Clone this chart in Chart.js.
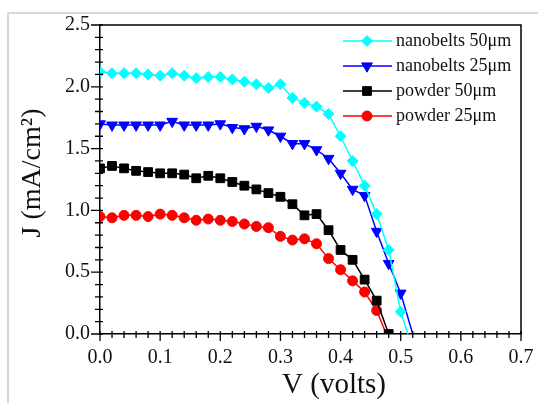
<!DOCTYPE html>
<html>
<head>
<meta charset="utf-8">
<script src="https://cdn.jsdelivr.net/npm/chart.js@4/dist/chart.umd.min.js"></script>
<style>
  html, body { margin: 0; padding: 0; background: #fff; }
  #wrap { position: relative; width: 538px; height: 403px; }
</style>
</head>
<body>
<div id="wrap"><canvas id="jvChart"></canvas></div>
<script>
// --- Data ---
const seriesNames = ['nanobelts 50μm', 'nanobelts 25μm', 'powder 50μm', 'powder 25μm'];

const voltsNb50 = [0, 0.02, 0.04, 0.06, 0.08, 0.10, 0.12, 0.14, 0.16, 0.18, 0.20, 0.22, 0.24, 0.26, 0.28, 0.30, 0.32, 0.34, 0.36, 0.38, 0.40, 0.42, 0.44, 0.46, 0.48, 0.50, 0.512];
const currentNb50 = [2.12, 2.11, 2.11, 2.11, 2.10, 2.09, 2.11, 2.09, 2.07, 2.08, 2.08, 2.06, 2.04, 2.02, 1.99, 2.02, 1.91, 1.87, 1.84, 1.78, 1.60, 1.40, 1.20, 0.97, 0.68, 0.18, 0];

const voltsNb25 = [0, 0.02, 0.04, 0.06, 0.08, 0.10, 0.12, 0.14, 0.16, 0.18, 0.20, 0.22, 0.24, 0.26, 0.28, 0.30, 0.32, 0.34, 0.36, 0.38, 0.40, 0.42, 0.44, 0.46, 0.48, 0.50, 0.52];
const currentNb25 = [1.70, 1.69, 1.69, 1.69, 1.69, 1.69, 1.72, 1.69, 1.69, 1.69, 1.70, 1.67, 1.66, 1.68, 1.65, 1.60, 1.54, 1.54, 1.49, 1.42, 1.30, 1.17, 1.12, 0.83, 0.57, 0.33, 0];

const voltsPw50 = [0, 0.02, 0.04, 0.06, 0.08, 0.10, 0.12, 0.14, 0.16, 0.18, 0.20, 0.22, 0.24, 0.26, 0.28, 0.30, 0.32, 0.34, 0.36, 0.38, 0.40, 0.42, 0.44, 0.46, 0.48];
const currentPw50 = [1.34, 1.36, 1.34, 1.32, 1.31, 1.30, 1.30, 1.29, 1.26, 1.28, 1.26, 1.23, 1.20, 1.17, 1.14, 1.11, 1.05, 0.96, 0.97, 0.84, 0.68, 0.60, 0.44, 0.27, 0];

const voltsPw25 = [0, 0.02, 0.04, 0.06, 0.08, 0.10, 0.12, 0.14, 0.16, 0.18, 0.20, 0.22, 0.24, 0.26, 0.28, 0.30, 0.32, 0.34, 0.36, 0.38, 0.40, 0.42, 0.44, 0.46, 0.476];
const currentPw25 = [0.95, 0.94, 0.96, 0.96, 0.95, 0.97, 0.96, 0.94, 0.92, 0.93, 0.92, 0.91, 0.89, 0.87, 0.86, 0.79, 0.76, 0.77, 0.73, 0.61, 0.52, 0.43, 0.34, 0.19, 0];

const xTickLabels = ['0.0', '0.1', '0.2', '0.3', '0.4', '0.5', '0.6', '0.7'];
const yTickLabels = ['0.0', '0.5', '1.0', '1.5', '2.0', '2.5'];

// last point of some curves is only where the line meets the axis, no marker there
const showEndMarker = [false, false, true, false];

const seriesColors = ['#00ffff', '#0000ff', '#000000', '#ff0000'];
const seriesShapes = ['rectRot', 'triangle', 'rect', 'circle'];
const seriesRotation = [0, 180, 0, 0];
const seriesRadius = [5.5, 6.2, 6.2, 5];

const allVolts = [voltsNb50, voltsNb25, voltsPw50, voltsPw25];
const allCurrent = [currentNb50, currentNb25, currentPw50, currentPw25];

const FONT = '"Liberation Serif", "DejaVu Serif", serif';

const datasets = seriesNames.map((name, i) => ({
  label: name,
  data: allVolts[i].map((v, k) => ({ x: v, y: allCurrent[i][k] })),
  borderColor: seriesColors[i],
  backgroundColor: seriesColors[i],
  borderWidth: 1.5,
  pointStyle: seriesShapes[i],
  rotation: seriesRotation[i],
  pointBorderWidth: 1,
  pointRadius: (ctx) => {
    const last = ctx.dataIndex === allVolts[i].length - 1;
    return last && !showEndMarker[i] ? 0 : seriesRadius[i];
  },
  tension: 0
}));

// --- ticks that cross the axis lines, plus the top/right frame ---
const frameAndTicks = {
  id: 'frameAndTicks',
  beforeDraw(chart) {
    const c = chart.ctx;
    c.save();
    c.strokeStyle = '#cccccc';
    c.lineWidth = 1.5;
    c.beginPath();
    c.moveTo(8, 403);
    c.lineTo(8, 13);
    c.lineTo(538, 13);
    c.stroke();
    c.restore();
  },
  afterDatasetsDraw(chart) {
    const c = chart.ctx;
    const area = chart.chartArea;
    const xs = chart.scales.x, ys = chart.scales.y;
    c.save();
    c.strokeStyle = '#000';
    c.lineWidth = 1.5;
    c.beginPath();
    c.moveTo(area.left, area.top);
    c.lineTo(area.right, area.top);
    c.lineTo(area.right, area.bottom);
    c.stroke();

    c.lineWidth = 1.3;
    c.beginPath();
    // x axis: major 0.1, minor 0.02
    for (let k = 0; k <= 35; k++) {
      const px = xs.getPixelForValue(k * 0.02);
      const major = k % 5 === 0;
      c.moveTo(px, area.bottom - 3);
      c.lineTo(px, area.bottom + (major ? 7 : 4));
    }
    // y axis: major 0.5, minor 0.1
    for (let k = 0; k <= 25; k++) {
      const py = ys.getPixelForValue(k * 0.1);
      const major = k % 5 === 0;
      c.moveTo(area.left + 3, py);
      c.lineTo(area.left - (major ? 9 : 5), py);
    }
    c.stroke();
    c.restore();
  },
  afterDraw(chart) {
    const c = chart.ctx;
    c.save();
    c.fillStyle = '#111';
    c.textAlign = 'center';
    c.textBaseline = 'middle';
    c.font = '29px ' + FONT;
    c.fillText('V (volts)', 334, 385);
    c.font = '28px ' + FONT;
    c.translate(33, 173);
    c.rotate(-Math.PI / 2);
    c.fillText('J (mA/cm²)', 0, 0);
    c.restore();

    // legend: line + marker, like the original
    const ctx = chart.ctx;
    ctx.save();
    chart.data.datasets.forEach((ds, i) => {
      const y = 41 + i * 25;
      ctx.strokeStyle = ds.borderColor;
      ctx.lineWidth = 1.5;
      ctx.beginPath();
      ctx.moveTo(343, y);
      ctx.lineTo(392, y);
      ctx.stroke();
      ctx.fillStyle = ds.backgroundColor;
      ctx.lineWidth = 1;
      Chart.helpers.drawPoint(ctx, {
        pointStyle: seriesShapes[i],
        rotation: seriesRotation[i],
        radius: seriesRadius[i],
        borderWidth: 1
      }, 367, y);
      ctx.fillStyle = '#111';
      ctx.font = '18px ' + FONT;
      ctx.textAlign = 'left';
      ctx.textBaseline = 'middle';
      ctx.fillText(ds.label, 396, y);
    });
    ctx.restore();
  }
};

const chartOptions = {
  responsive: true,
  maintainAspectRatio: false,
  animation: false,
  events: [],
  layout: { padding: { left: 0, top: 25, right: 17, bottom: 0 } },
  plugins: {
    legend: { display: false },
    tooltip: { enabled: false }
  },
  scales: {
    x: {
      type: 'linear',
      min: 0,
      max: 0.7,
      grid: { display: false, drawTicks: false },
      border: { display: true, color: '#000', width: 1.5 },
      ticks: {
        color: '#111',
        padding: 12,
        font: { family: FONT, size: 20 },
        callback: (v) => xTickLabels.find(t => Math.abs(parseFloat(t) - v) < 1e-6) || ''
      },
      afterBuildTicks: (scale) => { scale.ticks = xTickLabels.map(t => ({ value: parseFloat(t) })); },
      afterFit: (scale) => {
        scale.height = 69;
        scale.paddingLeft = 0;
        scale.paddingRight = 0;
      }
    },
    y: {
      type: 'linear',
      min: 0,
      max: 2.5,
      grid: { display: false, drawTicks: false },
      border: { display: true, color: '#000', width: 1.5 },
      ticks: {
        color: '#111',
        padding: 10,
        font: { family: FONT, size: 20 },
        callback: (v) => yTickLabels.find(t => Math.abs(parseFloat(t) - v) < 1e-6) || ''
      },
      afterBuildTicks: (scale) => { scale.ticks = yTickLabels.map(t => ({ value: parseFloat(t) })); },
      afterFit: (scale) => {
        scale.width = 100;
        scale.paddingTop = 0;
        scale.paddingBottom = 0;
      }
    }
  }
};

const ctx = document.getElementById('jvChart').getContext('2d');
const jvChart = new Chart(ctx, {
  type: 'line',
  data: { datasets: datasets },
  options: chartOptions,
  plugins: [frameAndTicks]
});
</script>
</body>
</html>
